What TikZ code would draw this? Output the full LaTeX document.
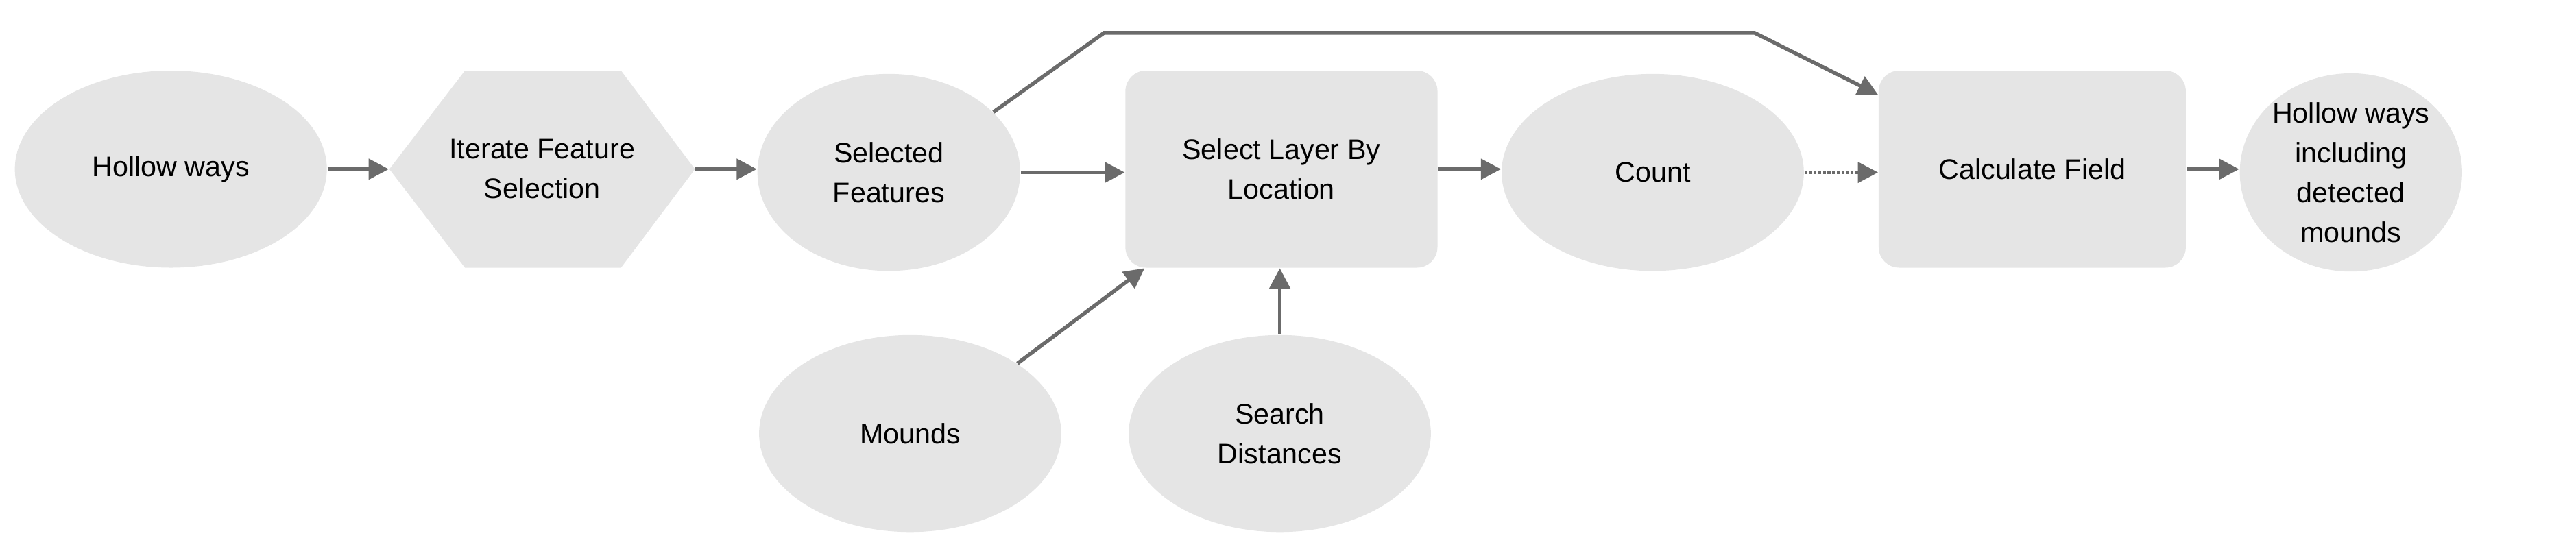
\documentclass[tikz,border=0pt]{standalone}
\usepackage{fontspec}
\setmainfont{Liberation Sans}
\usetikzlibrary{shapes.geometric,arrows.meta}
\begin{document}
\begin{tikzpicture}[x=0.02cm,y=-0.02cm,
  box/.style={fill=black!10,draw=none,font=\fontsize{9.8}{13.8}\selectfont,align=center,inner sep=0pt},
  ell/.style={box,ellipse,minimum width=#1*0.04cm,minimum height=2.4cm},
  rbox/.style={box,rectangle,rounded corners=0.25cm,minimum width=3.8cm,minimum height=2.4cm},
  arr/.style={draw=black!58,line width=1.3pt,-{Triangle[length=7pt,width=7pt]}},
  dots/.style={arr,dash pattern=on 1pt off 0.6pt}]
\useasboundingbox (0,0) rectangle (1568,334);
\node[ell=95] (hw) at (104,103) {Hollow ways};
\fill[black!10] (237,103) -- (283,43) -- (378,43) -- (423,103) -- (378,163) -- (283,163) -- cycle;
\node[box,minimum width=3.72cm,minimum height=2.4cm,fill=none] (it) at (330,103) {Iterate Feature\\Selection};
\node[ell=80] (sf) at (541,105) {Selected\\Features};
\node[rbox] (sl) at (780,103) {Select Layer By\\Location};
\node[ell=92] (ct) at (1006,105) {Count};
\node[rbox,minimum width=3.74cm] (cf) at (1237,103) {Calculate Field};
\node[ell=62] (ho) at (1431,105) {Hollow ways\\including\\detected\\mounds};
\node[ell=92] (md) at (554,264) {Mounds};
\node[ell=92] (sd) at (779,264) {Search\\Distances};
\draw[arr] (hw) -- (it.west);
\draw[arr] (it.east) -- (sf.west|-it.east);
\draw[arr] (sf.east) -- (sl.west|-sf.east);
\draw[arr] (sl.east) -- (ct.west|-sl.east);
\draw[dots] (ct.east) -- (cf.west|-ct.east);
\draw[arr] (cf.east) -- (ho.west|-cf.east);
\draw[arr] (md.north east) -- ([xshift=0.24cm]sl.south west);
\draw[arr] (sd.north) -- (sd.north|-sl.south);
\coordinate (k1) at (672,20);
\coordinate (k2) at (1068,20);
\draw[arr] (sf.30) -- (k1) -- (k2) -- ([yshift=-0.3cm]cf.north west);
\end{tikzpicture}
\end{document}
